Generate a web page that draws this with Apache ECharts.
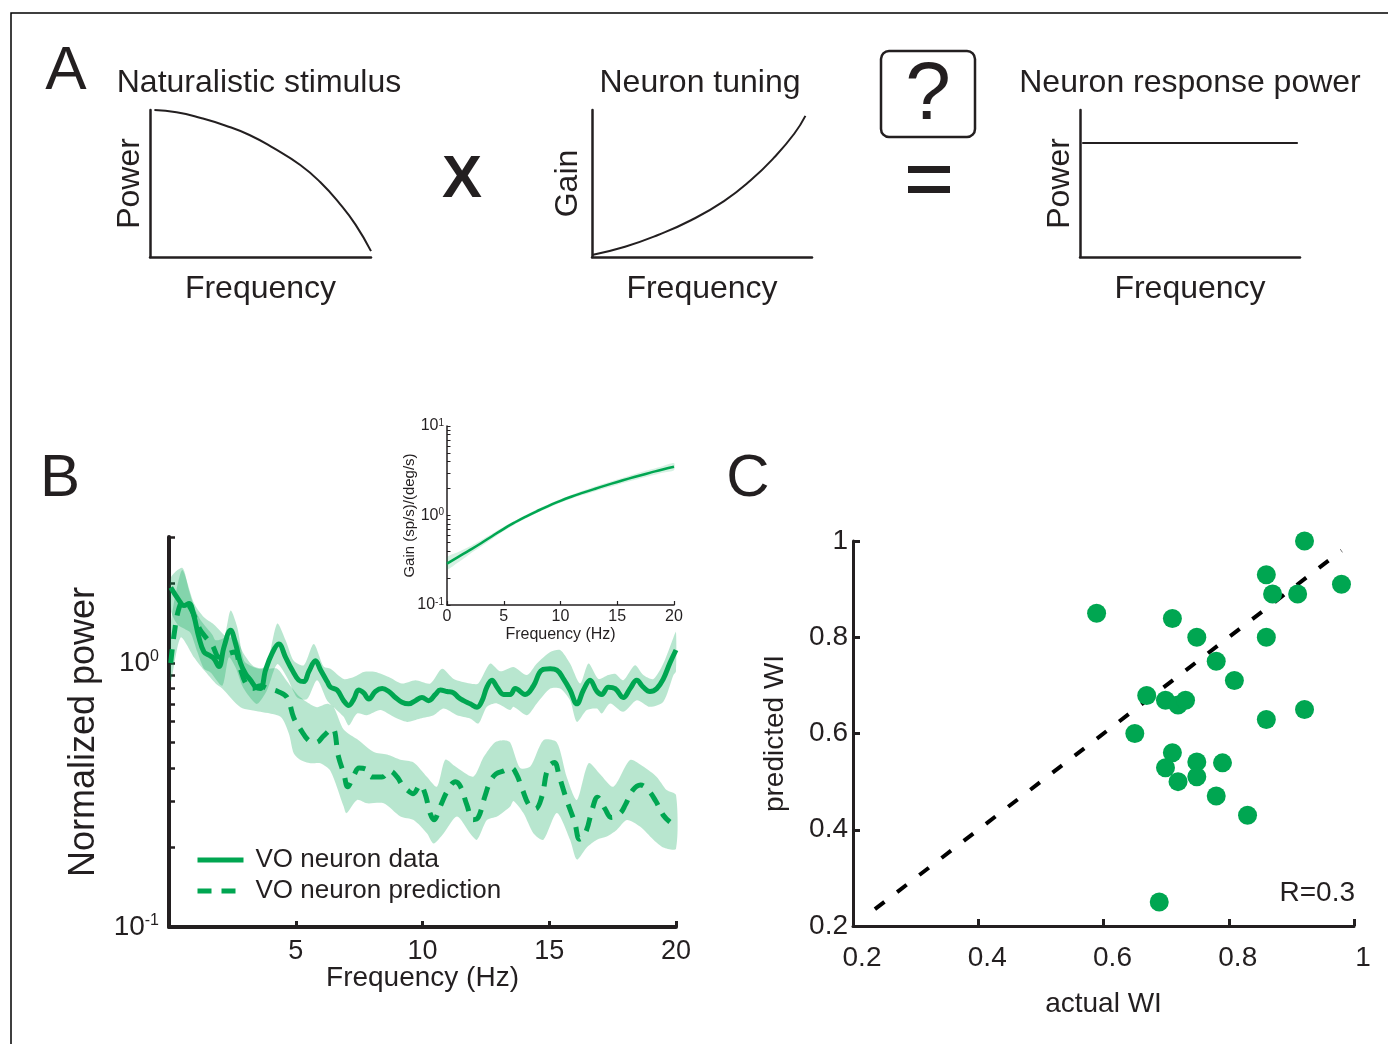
<!DOCTYPE html>
<html><head><meta charset="utf-8">
<script src="https://cdn.jsdelivr.net/npm/echarts@6/dist/echarts.min.js"></script>
<style>html,body{margin:0;padding:0;background:#fff}#c{width:1388px;height:1044px}</style>
</head><body><div id="c"></div>
<script>
// ---------- Panel A (schematics) ----------
const stimFreq  = [0.02, 0.12, 0.23, 0.34, 0.45, 0.56, 0.68, 0.77, 0.86, 0.93, 1.0];
const stimPower = [1.0, 0.985, 0.946, 0.895, 0.83, 0.74, 0.626, 0.51, 0.36, 0.22, 0.04];
const tuneFreq  = [0, 0.15, 0.3, 0.45, 0.6, 0.72, 0.83, 0.92, 0.97];
const tuneGain  = [0.014, 0.07, 0.15, 0.25, 0.38, 0.52, 0.68, 0.84, 0.96];
const respFreq  = [0.01, 0.99];
const respPower = [0.776, 0.776];

// ---------- Panel B main: VO neuron data ----------
const dataFreq = [0.07,0.39,0.59,0.79,0.98,1.18,1.38,1.58,1.77,1.97,
  2.17,2.43,2.63,2.82,3.02,3.22,3.42,3.61,3.81,4.07,
  4.33,4.60,4.86,5.12,5.32,5.52,5.78,5.98,6.24,6.37,
  6.63,6.89,7.09,7.29,7.48,7.68,7.88,8.14,8.41,8.67,
  8.93,9.19,9.45,9.72,9.98,10.24,10.51,10.70,10.97,11.23,
  11.42,11.62,11.88,12.15,12.35,12.54,12.74,12.94,13.20,13.46,
  13.66,14.05,14.38,14.71,15.04,15.30,15.56,15.82,16.09,16.35,
  16.61,16.88,17.07,17.33,17.60,17.92,18.19,18.45,18.71,18.97,
  19.24,19.50,19.76,20.00];
const dataPower = [1.93,1.73,1.65,1.68,1.51,1.25,1.10,1.07,1.04,0.97,
  1.15,1.33,1.18,1.00,0.91,0.86,0.81,0.80,0.94,1.09,
  1.18,1.05,0.94,0.86,0.85,0.93,1.02,0.94,0.85,0.81,
  0.79,0.72,0.69,0.73,0.79,0.77,0.73,0.78,0.80,0.78,
  0.74,0.71,0.70,0.72,0.74,0.72,0.76,0.79,0.78,0.77,
  0.74,0.72,0.70,0.68,0.72,0.81,0.86,0.81,0.76,0.76,
  0.80,0.76,0.82,0.94,0.95,0.94,0.87,0.79,0.70,0.79,
  0.86,0.78,0.76,0.81,0.80,0.74,0.80,0.86,0.81,0.78,
  0.80,0.87,1.00,1.12];
const dataUpperFreq = [0.07,0.53,0.79,0.99,1.25,1.71,1.84,2.17,2.43,2.69,2.96,3.28,3.61,3.87,4.27,4.6,4.92,5.32,5.71,6.1,
  6.37,6.89,7.29,7.68,8.14,8.67,9.19,9.72,10.31,10.77,11.23,11.88,12.2,12.67,13.07,13.59,14.12,14.51,15.04,15.43,
  15.82,16.22,16.55,16.94,17.33,17.6,17.92,18.38,18.71,19.11,19.5,19.9,20.0];
const dataUpper = [2.1,2.29,1.88,1.63,1.45,1.28,1.22,1.25,1.58,1.37,1.02,0.97,0.95,0.99,1.41,1.22,1.02,0.98,1.18,0.97,
  0.95,0.87,0.885,0.925,0.925,0.885,0.836,0.86,0.836,0.95,0.87,0.836,0.836,0.995,0.93,0.966,0.90,0.995,1.10,1.12,
  0.995,0.836,0.995,0.87,0.90,0.91,0.86,0.98,0.90,0.87,0.995,1.25,1.31];
const dataLowerFreq = [0.07,0.33,0.59,0.85,1.12,1.38,1.64,2.1,2.36,2.63,2.89,3.15,3.48,3.87,4.27,4.66,5.06,5.45,5.84,6.24,
  6.5,6.89,7.09,7.42,7.81,8.34,8.86,9.39,9.91,10.44,10.83,11.36,11.88,12.21,12.54,12.94,13.46,13.59,14.12,14.51,
  15.04,15.43,15.82,16.09,16.48,16.88,17.07,17.4,17.92,18.45,18.97,19.5,19.9,20.0];
const dataLower = [1.58,1.40,1.35,1.30,1.10,0.95,0.92,0.82,1.05,0.96,0.82,0.75,0.70,0.79,0.99,0.88,0.74,0.73,0.86,0.72,
  0.68,0.625,0.58,0.644,0.634,0.663,0.625,0.598,0.616,0.634,0.672,0.634,0.616,0.59,0.682,0.703,0.663,0.682,0.634,0.703,
  0.80,0.80,0.723,0.598,0.663,0.672,0.644,0.703,0.653,0.723,0.682,0.713,0.90,0.93];

// ---------- Panel B main: VO neuron prediction ----------
const predFreq = [0.07,0.2,0.4,0.6,0.9,1.2,1.45,1.7,2.0,2.3,
  2.6,2.8,3.05,3.3,3.6,3.9,4.3,4.66,4.92,5.19,
  5.5,5.8,6.1,6.44,6.69,6.9,7.05,7.29,7.5,7.8,
  8.0,8.4,8.7,9.0,9.2,9.4,9.63,9.91,10.1,10.3,
  10.45,10.7,11.0,11.3,11.5,11.75,12.0,12.2,12.45,12.67,
  12.9,13.2,13.5,13.7,13.95,14.2,14.45,14.7,14.95,15.2,
  15.4,15.7,16.0,16.2,16.45,16.7,16.9,17.2,17.45,17.8,
  18.0,18.3,18.6,18.9,19.2,19.5,19.76];
const predPower = [1.00,1.28,1.62,1.72,1.58,1.35,1.25,1.17,1.05,1.08,
  1.10,0.96,0.83,0.80,0.82,0.80,0.78,0.74,0.62,0.56,
  0.51,0.50,0.53,0.565,0.44,0.38,0.34,0.375,0.40,0.395,
  0.37,0.37,0.39,0.37,0.345,0.33,0.32,0.345,0.32,0.27,
  0.255,0.286,0.33,0.355,0.34,0.29,0.255,0.26,0.31,0.355,
  0.38,0.39,0.40,0.38,0.33,0.29,0.28,0.31,0.40,0.42,
  0.37,0.30,0.25,0.215,0.23,0.28,0.31,0.28,0.26,0.27,
  0.29,0.33,0.345,0.33,0.30,0.265,0.25];
const predUpperFreq = [0.07,0.3,0.53,0.99,1.38,1.77,2.3,2.63,2.96,3.35,3.87,4.27,4.66,5.06,5.45,5.84,6.24,6.5,6.89,7.48,
  8.08,8.6,9.13,9.65,10.18,10.57,10.9,11.3,12.0,12.41,12.85,13.2,13.46,13.85,14.25,14.77,15.3,15.69,16.09,16.55,
  17.0,17.53,18.19,18.71,19.24,19.63,20.0];
const predUpper = [1.4,1.9,2.25,1.68,1.49,1.40,1.25,1.25,1.08,0.97,0.95,0.95,0.85,0.76,0.71,0.68,0.70,0.68,0.56,0.51,
  0.46,0.45,0.43,0.42,0.37,0.34,0.43,0.405,0.371,0.44,0.50,0.51,0.50,0.40,0.405,0.51,0.50,0.37,0.303,0.417,
  0.38,0.34,0.429,0.405,0.37,0.33,0.316];
const predLowerFreq = [0.07,0.46,0.99,1.38,1.84,2.1,2.82,3.61,4.4,4.73,4.92,5.19,5.58,5.97,6.37,6.89,7.0,7.42,7.81,8.47,
  9.13,9.65,10.18,10.44,10.83,11.36,11.88,12.15,12.54,12.94,13.46,13.59,13.98,14.38,14.77,15.3,15.82,16.09,16.48,16.88,
  17.27,17.66,18.06,18.58,19.11,19.5,20.0];
const predLower = [0.85,1.25,1.05,0.94,0.836,0.80,0.68,0.653,0.625,0.54,0.455,0.429,0.417,0.417,0.39,0.286,0.27,0.303,0.294,0.294,
  0.262,0.254,0.226,0.207,0.226,0.262,0.226,0.214,0.254,0.262,0.286,0.30,0.27,0.226,0.214,0.27,0.214,0.18,0.20,0.214,
  0.22,0.233,0.254,0.24,0.214,0.20,0.198];
const bTickValues = [0.1,0.2,0.3,0.4,0.5,0.6,0.7,0.8,0.9,1,2,3];

// ---------- Panel B inset: gain ----------
const insetFreq  = [0,1,2,3,4,5,6,7,8,9,10,11,12,13,14,15,16,17,18,19,20];
const insetGain  = [0.29,0.345,0.41,0.49,0.59,0.71,0.84,0.98,1.13,1.29,1.46,1.63,1.80,1.98,2.17,2.37,2.58,2.80,3.03,3.27,3.5];
const insetUpper = [0.34,0.39,0.45,0.53,0.63,0.75,0.88,1.02,1.18,1.35,1.53,1.71,1.90,2.10,2.31,2.53,2.77,3.02,3.28,3.56,3.85];
const insetLower = [0.25,0.30,0.37,0.45,0.55,0.67,0.80,0.94,1.08,1.23,1.39,1.55,1.70,1.86,2.03,2.21,2.40,2.59,2.79,3.00,3.20];
const insetTickValues = [0.1,0.2,0.3,0.4,0.5,0.6,0.7,0.8,0.9,1,2,3,4,5,6,7,8,9,10];

// ---------- Panel C ----------
const actualWI    = [0.921,0.860,0.980,0.870,0.910,0.589,0.710,0.749,0.860,0.780,0.809,0.669,0.699,0.719,
  0.731,0.860,0.921,0.650,0.710,0.699,0.749,0.790,0.719,0.749,0.780,0.830,0.689];
const predictedWI = [1.0,0.930,0.910,0.890,0.890,0.850,0.839,0.800,0.800,0.750,0.710,0.679,0.669,0.659,
  0.669,0.629,0.650,0.600,0.560,0.529,0.541,0.539,0.500,0.510,0.470,0.430,0.250];
const diagX = [0.235, 0.98];
const diagY = [0.235, 0.98];

// ---------- build ----------
const FONT = '"Liberation Sans", Arial, Helvetica, sans-serif';
const INK = '#231f20';
const GREEN = '#00a651';
const pairs = (xs, ys) => xs.map((x, i) => [x, ys[i]]);

function band(name, xi, yi, upF, up, loF, lo, fill) {
  return {
    type: 'custom', name, xAxisIndex: xi, yAxisIndex: yi, silent: true, z: 1,
    data: [[upF[0], up[0]]],
    renderItem(params, api) {
      const pts = [];
      for (let i = 0; i < upF.length; i++) pts.push(api.coord([upF[i], up[i]]));
      for (let i = loF.length - 1; i >= 0; i--) pts.push(api.coord([loF[i], lo[i]]));
      return { type: 'polygon', shape: { points: pts, smooth: 0.25 }, style: { fill } };
    }
  };
}
function sup() {
  return function (v) {
    const l = Math.log10(v), e = Math.round(l);
    if (Math.abs(l - e) > 0.01) return '';
    return '{b|10}{s|' + e + '}';
  };
}
const gridBase = { outerBoundsMode: 'none', containLabel: false };
function aX(gi, extra) {
  return Object.assign({
    gridIndex: gi, type: 'value', min: 0, max: 1,
    axisLine: { show: true, onZero: false, lineStyle: { color: INK, width: 2.5 } },
    axisTick: { show: false }, axisLabel: { show: false }, splitLine: { show: false },
    name: 'Frequency', nameLocation: 'middle', nameGap: 16, nameMoveOverlap: false,
    nameTextStyle: { fontSize: 32, color: INK, fontFamily: FONT }
  }, extra || {});
}
function aY(gi, name, gap) {
  return {
    gridIndex: gi, type: 'value', min: 0, max: 1, position: 'left',
    axisLine: { show: true, onZero: false, lineStyle: { color: INK, width: 2.5 } },
    axisTick: { show: false }, axisLabel: { show: false }, splitLine: { show: false },
    name, nameLocation: 'middle', nameGap: gap, nameRotate: 90, nameMoveOverlap: false,
    nameTextStyle: { fontSize: 32, color: INK, fontFamily: FONT }
  };
}
const schemLine = (xi, xs, ys) => ({
  type: 'line', xAxisIndex: xi, yAxisIndex: xi, data: pairs(xs, ys), smooth: true,
  symbol: 'none', lineStyle: { color: INK, width: 2 }, silent: true
});

const option = {
  animation: false,
  backgroundColor: '#fff',
  textStyle: { fontFamily: FONT, color: INK },
  grid: [
    Object.assign({ left: 150, top: 110, width: 221, height: 147 }, gridBase),
    Object.assign({ left: 592, top: 110, width: 220, height: 147 }, gridBase),
    Object.assign({ left: 1080, top: 110, width: 220, height: 147 }, gridBase),
    Object.assign({ left: 169, top: 537, width: 507, height: 390 }, gridBase),
    Object.assign({ left: 447, top: 426, width: 227, height: 179 }, gridBase),
    Object.assign({ left: 853, top: 541, width: 501, height: 385 }, gridBase)
  ],
  xAxis: [
    aX(0), aX(1), aX(2),
    { gridIndex: 3, type: 'value', min: 0, max: 20, interval: 5, position: 'bottom',
      axisLine: { onZero: false, lineStyle: { color: INK, width: 4 } },
      axisTick: { inside: true, length: 6, lineStyle: { color: INK, width: 3 } },
      axisLabel: { fontSize: 27, color: INK, fontFamily: FONT, margin: 11, formatter: v => v === 0 ? '' : String(v) },
      splitLine: { show: false },
      name: 'Frequency (Hz)', nameLocation: 'middle', nameGap: 37, nameMoveOverlap: false,
      nameTextStyle: { fontSize: 28, color: INK, fontFamily: FONT } },
    { gridIndex: 4, type: 'value', min: 0, max: 20, interval: 5, position: 'bottom',
      axisLine: { onZero: false, lineStyle: { color: INK, width: 1.5 } },
      axisTick: { inside: true, length: 4, lineStyle: { color: INK, width: 1.2 } },
      axisLabel: { fontSize: 16, color: INK, fontFamily: FONT, margin: 4 },
      splitLine: { show: false },
      name: 'Frequency (Hz)', nameLocation: 'middle', nameGap: 22, nameMoveOverlap: false,
      nameTextStyle: { fontSize: 16, color: INK, fontFamily: FONT } },
    { gridIndex: 5, type: 'value', min: 0.2, max: 1, interval: 0.2, position: 'bottom',
      axisLine: { onZero: false, lineStyle: { color: INK, width: 3 } },
      axisTick: { inside: true, length: 7, lineStyle: { color: INK, width: 3 } },
      axisLabel: { fontSize: 28, color: INK, fontFamily: FONT, margin: 18, padding: [0, 0, 0, 18],
        formatter: v => Math.abs(v - 1) < 1e-6 ? '1' : v.toFixed(1) },
      splitLine: { show: false },
      name: 'actual WI', nameLocation: 'middle', nameGap: 64, nameMoveOverlap: false,
      nameTextStyle: { fontSize: 28, color: INK, fontFamily: FONT } }
  ],
  yAxis: [
    aY(0, 'Power', 4), aY(1, 'Gain', 8), aY(2, 'Power', 4),
    { gridIndex: 3, type: 'log', logBase: 10, min: 0.1, max: 3, position: 'left',
      axisLine: { onZero: false, lineStyle: { color: INK, width: 4 } },
      axisTick: { show: false },
      axisLabel: { margin: 10, formatter: sup(), rich: {
        b: { fontSize: 28, color: INK, fontFamily: FONT },
        s: { fontSize: 16, color: INK, fontFamily: FONT, verticalAlign: 'top' } } },
      splitLine: { show: false }, minorTick: { show: false },
      name: 'Normalized power', nameLocation: 'middle', nameGap: 67, nameRotate: 90, nameMoveOverlap: false,
      nameTextStyle: { fontSize: 36, color: INK, fontFamily: FONT } },
    { gridIndex: 3, type: 'value', min: -1, max: Math.log10(3), position: 'left', offset: 0,
      axisLine: { show: false, onZero: false }, axisLabel: { show: false }, splitLine: { show: false },
      axisTick: { show: true, inside: true, length: 6, lineStyle: { color: INK, width: 2.5 },
        customValues: bTickValues.map(Math.log10) } },
    { gridIndex: 4, type: 'log', logBase: 10, min: 0.1, max: 10, position: 'left',
      axisLine: { onZero: false, lineStyle: { color: INK, width: 1.5 } },
      axisTick: { show: false },
      axisLabel: { margin: 3, formatter: sup(), rich: {
        b: { fontSize: 16, color: INK, fontFamily: FONT },
        s: { fontSize: 10, color: INK, fontFamily: FONT, verticalAlign: 'top' } } },
      splitLine: { show: false },
      name: 'Gain (sp/s)/(deg/s)', nameLocation: 'middle', nameGap: 30, nameRotate: 90, nameMoveOverlap: false,
      nameTextStyle: { fontSize: 15, color: INK, fontFamily: FONT } },
    { gridIndex: 4, type: 'value', min: -1, max: 1, position: 'left', offset: 0,
      axisLine: { show: false, onZero: false }, axisLabel: { show: false }, splitLine: { show: false },
      axisTick: { show: true, inside: true, length: 3.5, lineStyle: { color: INK, width: 1 },
        customValues: insetTickValues.map(Math.log10) } },
    { gridIndex: 5, type: 'value', min: 0.2, max: 1, interval: 0.2, position: 'left',
      axisLine: { onZero: false, lineStyle: { color: INK, width: 3 } },
      axisTick: { inside: true, length: 7, lineStyle: { color: INK, width: 3 } },
      axisLabel: { fontSize: 28, color: INK, fontFamily: FONT, margin: 5,
        formatter: v => Math.abs(v - 1) < 1e-6 ? '1' : v.toFixed(1) },
      splitLine: { show: false },
      name: 'predicted WI', nameLocation: 'middle', nameGap: 64, nameRotate: 90, nameMoveOverlap: false,
      nameTextStyle: { fontSize: 28, color: INK, fontFamily: FONT } }
  ],
  legend: {
    left: 195, top: 847, padding: 0, orient: 'vertical', itemWidth: 46, itemHeight: 14, itemGap: 5,
    data: ['VO neuron data', 'VO neuron prediction'],
    itemStyle: { opacity: 0 },
    lineStyle: { width: 5 },
    textStyle: { fontSize: 26, color: INK, fontFamily: FONT, padding: [0, 0, 0, 7] },
    selectedMode: false
  },
  series: [
    schemLine(0, stimFreq, stimPower),
    schemLine(1, tuneFreq, tuneGain),
    schemLine(2, respFreq, respPower),
    band('dataBand', 3, 3, dataUpperFreq, dataUpper, dataLowerFreq, dataLower, 'rgba(0,166,81,0.28)'),
    band('predBand', 3, 3, predUpperFreq, predUpper, predLowerFreq, predLower, 'rgba(0,166,81,0.28)'),
    { type: 'line', name: 'VO neuron data', xAxisIndex: 3, yAxisIndex: 3, data: pairs(dataFreq, dataPower),
      smooth: 0.4, symbol: 'none', z: 3, lineStyle: { color: GREEN, width: 5 }, itemStyle: { color: GREEN } },
    { type: 'line', name: 'VO neuron prediction', xAxisIndex: 3, yAxisIndex: 3, data: pairs(predFreq, predPower),
      smooth: 0.4, symbol: 'none', z: 3, lineStyle: { color: GREEN, width: 5, type: [14, 10] }, itemStyle: { color: GREEN } },
    band('insetBand', 4, 5, insetFreq, insetUpper, insetFreq, insetLower, 'rgba(0,166,81,0.16)'),
    { type: 'line', name: 'gain', xAxisIndex: 4, yAxisIndex: 5, data: pairs(insetFreq, insetGain),
      smooth: true, symbol: 'none', z: 3, lineStyle: { color: GREEN, width: 2.5 } },
    { type: 'line', name: 'unity', xAxisIndex: 5, yAxisIndex: 7, data: pairs(diagX, diagY),
      symbol: 'none', z: 2, lineStyle: { color: '#000', width: 4, type: [12, 16] } },
    { type: 'scatter', name: 'cells', xAxisIndex: 5, yAxisIndex: 7, data: pairs(actualWI, predictedWI),
      symbolSize: 19, z: 3, itemStyle: { color: GREEN, opacity: 1 } }
  ],
  graphic: [
    { type: 'polyline', shape: { points: [[11, 1044], [11, 13], [1388, 13]] }, style: { stroke: '#000', lineWidth: 1.5, fill: null } },
    { type: 'text', x: 66, y: 72, style: { text: 'A', fontSize: 62, fontFamily: FONT, fill: INK, align: 'center', verticalAlign: 'middle' } },
    { type: 'text', x: 60, y: 479, style: { text: 'B', fontSize: 60, fontFamily: FONT, fill: INK, align: 'center', verticalAlign: 'middle' } },
    { type: 'text', x: 748, y: 479, style: { text: 'C', fontSize: 60, fontFamily: FONT, fill: INK, align: 'center', verticalAlign: 'middle' } },
    { type: 'text', x: 259, y: 83, style: { text: 'Naturalistic stimulus', fontSize: 32, fontFamily: FONT, fill: INK, align: 'center', verticalAlign: 'middle' } },
    { type: 'text', x: 700, y: 83, style: { text: 'Neuron tuning', fontSize: 32, fontFamily: FONT, fill: INK, align: 'center', verticalAlign: 'middle' } },
    { type: 'text', x: 1190, y: 83, style: { text: 'Neuron response power', fontSize: 32, fontFamily: FONT, fill: INK, align: 'center', verticalAlign: 'middle' } },
    { type: 'text', x: 462, y: 180, style: { text: 'X', fontSize: 60, fontWeight: 'bold', fontFamily: FONT, fill: INK, align: 'center', verticalAlign: 'middle' } },
    { type: 'rect', shape: { x: 908, y: 166, width: 42, height: 7 }, style: { fill: INK } },
    { type: 'rect', shape: { x: 908, y: 186, width: 42, height: 7 }, style: { fill: INK } },
    { type: 'rect', shape: { x: 881, y: 51, width: 94, height: 86, r: 8 }, style: { stroke: INK, lineWidth: 2.5, fill: null } },
    { type: 'text', x: 928, y: 96, style: { text: '?', fontSize: 82, fontFamily: FONT, fill: INK, align: 'center', verticalAlign: 'middle' } },
    { type: 'text', x: 1355, y: 893, style: { text: 'R=0.3', fontSize: 28, fontFamily: FONT, fill: INK, align: 'right', verticalAlign: 'middle' } }
  ]
};
const chart = echarts.init(document.getElementById('c'), null, { renderer: 'canvas' });
chart.setOption(option);
</script>
</body></html>
